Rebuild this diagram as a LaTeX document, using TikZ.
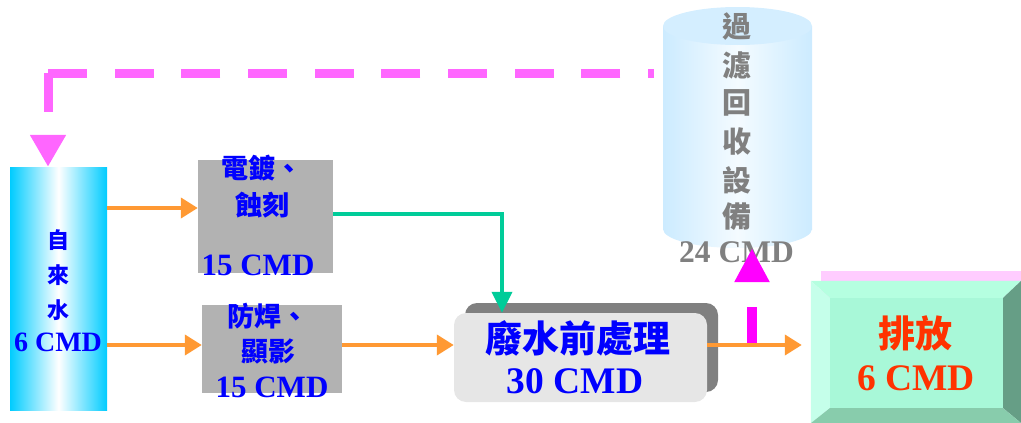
\documentclass[tikz,border=0pt]{standalone}
\usepackage{fontspec}
\setmainfont{Liberation Serif}
\newfontfamily\cjk{Noto Sans CJK TC}
\usetikzlibrary{arrows.meta,shadows,calc}
\definecolor{tapcyan}{HTML}{00CCFF}
\definecolor{procgray}{HTML}{B2B2B2}
\definecolor{txtblue}{HTML}{0000FF}
\definecolor{flowor}{HTML}{FF9933}
\definecolor{flowgr}{HTML}{00CC99}
\definecolor{pinkdash}{HTML}{FF66FF}
\definecolor{magbar}{HTML}{FF00FF}
\definecolor{cyledge}{HTML}{CCEBFF}
\definecolor{cylmid}{HTML}{F4FBFF}
\definecolor{cyltop}{HTML}{D4EEFF}
\definecolor{cylgray}{HTML}{808080}
\definecolor{wastefill}{HTML}{E6E6E6}
\definecolor{wasteshadow}{HTML}{808080}
\definecolor{outshadow}{HTML}{FFCCFF}
\definecolor{outface}{HTML}{A8F8D8}
\definecolor{outtop}{HTML}{B5FFE0}
\definecolor{outleft}{HTML}{C5FFEA}
\definecolor{outright}{HTML}{669E86}
\definecolor{outbottom}{HTML}{88CCAC}
\definecolor{outred}{HTML}{FF3300}
\newcommand\cjsize[1]{\cjk\bfseries\fontsize{#1}{#1}\selectfont}
\newcommand\lasize[1]{\rmfamily\bfseries\fontsize{#1}{#1}\selectfont}
\begin{document}
\begin{tikzpicture}[x=1pt,y=-1pt,
  txt/.style={inner sep=0pt, anchor=center},
  procbox/.style={rectangle, fill=procgray, draw=none, inner sep=0pt},
  orarrow/.style={draw=flowor, line width=4pt, -{Triangle[length=17pt,width=20pt]}},
  grarrow/.style={draw=flowgr, line width=4pt, -{Triangle[length=21pt,width=20pt]}},
  pinkline/.style={draw=pinkdash, line width=9pt},
  magline/.style={draw=magbar, line width=10pt, dash pattern=on 38pt off 25pt, -{Triangle[length=34pt,width=33pt]}}
]
\useasboundingbox (0,0) rectangle (1021,423);

% ---- filter cylinder ----
\node (filt) [rectangle, draw=none, minimum width=149pt, minimum height=241pt, inner sep=0pt] at (737.5,127.5) {};
\shade[left color=cyledge, right color=cyledge, middle color=cylmid] (663,26) rectangle (812,229);
\shade[left color=cyledge, right color=cyledge, middle color=cylmid] (737.5,229) ellipse [x radius=74.5pt, y radius=19pt];
\fill[cyltop] (737.5,26) ellipse [x radius=74.5pt, y radius=19pt];
\foreach \c/\y [count=\i] in {過/27,濾/65,回/103,收/142,設/180,備/217}
  \node (f\i) [txt, text=cylgray, font=\cjsize{29}] at (737,\y) {\c};
\node (f7) [txt, text=cylgray, font=\lasize{31.5}] at (736.5,252) {24 CMD};

% ---- tap water ----
\node (tap) [rectangle, minimum width=97pt, minimum height=243pt, inner sep=0pt,
  left color=tapcyan, right color=tapcyan, middle color=white] at (58.5,288.5) {};
\node (t1) [txt, text=txtblue, font=\cjsize{22}] at (58,240) {自};
\node (t2) [txt, text=txtblue, font=\cjsize{22}] at (58,275) {來};
\node (t3) [txt, text=txtblue, font=\cjsize{22}] at (58,310) {水};
\node (t4) [txt, text=txtblue, font=\lasize{28}] at (58,342) {6 CMD};

% ---- process boxes ----
\node (box1) [procbox, minimum width=135pt, minimum height=113pt] at (265.5,216.5) {};
\node (b1a) [txt, text=txtblue, font=\cjsize{27}] at (262,168) {電鍍、};
\node (b1b) [txt, text=txtblue, font=\cjsize{27}] at (262,205) {蝕刻};
\node (b1c) [txt, text=txtblue, font=\lasize{31}] at (258,265) {15 CMD};

\node (box2) [procbox, minimum width=140pt, minimum height=88pt] at (272,349) {};
\node (b2a) [txt, text=txtblue, font=\cjsize{27}] at (268,316) {防焊、};
\node (b2b) [txt, text=txtblue, font=\cjsize{27}] at (268,351) {顯影};
\node (b2c) [txt, text=txtblue, font=\lasize{31}] at (272,387) {15 CMD};

% ---- waste pre-treatment ----
\node (waste) [rectangle, rounded corners=12pt, fill=wastefill, minimum width=253pt, minimum height=89pt, inner sep=0pt,
  general shadow={fill=wasteshadow, shadow xshift=11pt, shadow yshift=10pt}] at (580.5,357.5) {};
\node (w1) [txt, text=txtblue, font=\cjsize{37}] at (578,338) {廢水前處理};
\node (w2) [txt, text=txtblue, font=\lasize{37.5}] at (575,381) {30 CMD};

% ---- discharge bevel box ----
\node (out) [rectangle, minimum width=210pt, minimum height=142pt, inner sep=0pt] at (916,352) {};
\fill[outshadow] ($(out.north west)+(10,-10)$) rectangle ($(out.south east)+(10,-10)$);
\coordinate (iNW) at ($(out.north west)+(19,17)$);
\coordinate (iNE) at ($(out.north east)+(-18,17)$);
\coordinate (iSW) at ($(out.south west)+(19,-15)$);
\coordinate (iSE) at ($(out.south east)+(-18,-15)$);
\fill[outtop] (out.north west) -- (out.north east) -- (iNE) -- (iNW) -- cycle;
\fill[outleft] (out.north west) -- (iNW) -- (iSW) -- (out.south west) -- cycle;
\fill[outright] (out.north east) -- (out.south east) -- (iSE) -- (iNE) -- cycle;
\fill[outbottom] (out.south west) -- (out.south east) -- (iSE) -- (iSW) -- cycle;
\fill[outface] (iNW) rectangle (iSE);
\node (o1) [txt, text=outred, font=\cjsize{37}] at (915,333) {排放};
\node (o2) [txt, text=outred, font=\lasize{37.5}] at (916,378) {6 CMD};

% ---- connectors ----
\coordinate (rtop) at (654,73);
\coordinate (corner) at (48,73);
\draw[pinkline, dash pattern=on 39pt off 27.67pt, dash phase=33pt] (rtop) -- (corner);
\draw[pinkline, dash pattern=on 39pt off 28pt, -{Triangle[length=32pt,width=34pt]}] (corner) -- (tap.north -| corner);

\draw[orarrow] (tap.east |- 0,208) -- (box1.west |- 0,208);
\draw[orarrow] (tap.east |- 0,345) -- (box2.west |- 0,345);
\draw[orarrow] (box2.east |- 0,345) -- (waste.west |- 0,345);
\draw[grarrow] (box1.east |- 0,214) -| (waste.north -| 502,0);

\coordinate (tee) at (752,345);
\draw[magline] (tee) -- (filt.south -| tee);
\draw[orarrow, shorten >=9pt] (waste.east |- 0,345) -- (out.west |- 0,345);
\end{tikzpicture}
\end{document}
